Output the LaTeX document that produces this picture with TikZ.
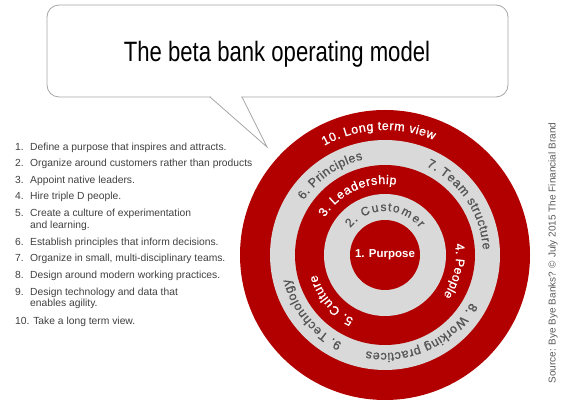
\documentclass[tikz,border=0pt]{standalone}
\usepackage{fontspec}
\setmainfont{Liberation Sans}
\newfontfamily\titlefont[FakeStretch=0.79]{Liberation Sans}
\newfontfamily\ringfont[FakeBold=1.0]{Liberation Sans}
\usetikzlibrary{decorations.text}
\definecolor{ringred}{RGB}{178,0,0}
\definecolor{ringgrey}{RGB}{217,217,217}
\definecolor{labgrey}{RGB}{85,85,85}
\definecolor{listgrey}{RGB}{64,64,64}
\definecolor{boxgrey}{RGB}{166,166,166}
\definecolor{srcgrey}{RGB}{90,90,90}
\tikzset{
  boxline/.style={draw=boxgrey, line width=0.8pt},
  listnum/.style={anchor=base west, inner sep=0pt, text=listgrey, font=\fontsize{10.3}{12}\selectfont},
  listtxt/.style={anchor=base west, inner sep=0pt, text=listgrey, font=\fontsize{10.3}{12}\selectfont},
  arclabel/.style n args={3}{decorate, decoration={text effects along path, text={#3},
     text effects/.cd, text along path, fit text to path,
     characters={inner sep=0pt, anchor=base, text=#1, font=\ringfont\fontsize{#2}{14}\selectfont}}}
}
\begin{document}
\begin{tikzpicture}[x=1pt,y=1pt]
\useasboundingbox (0,0) rectangle (565,409);
% callout
\coordinate (pL) at (210,312);
\coordinate (pT) at (267,262);
\coordinate (pR) at (242,312);
\draw[boxline, fill=white, rounded corners=12pt] (47,312) rectangle (508,404);
\fill[white] (211,313) rectangle (241,310);
\draw[boxline, line join=miter] (pL) -- (pT) -- (pR);
\node[anchor=base, inner sep=0pt] (title) at (277,347) {\titlefont\fontsize{28}{32}\selectfont The beta bank operating model};
% list
\node[listnum] (n1) at (15,258) {1.};
\node[listtxt] (t1) at (30,258) {Define a purpose that inspires and attracts.};
\node[listnum] (n2) at (15,242) {2.};
\node[listtxt] (t2) at (30,242) {Organize around customers rather than products};
\node[listnum] (n3) at (15,225) {3.};
\node[listtxt] (t3) at (30,225) {Appoint native leaders.};
\node[listnum] (n4) at (15,209) {4.};
\node[listtxt] (t4) at (30,209) {Hire triple D people.};
\node[listnum] (n5) at (15,192) {5.};
\node[listtxt] (t5) at (30,192) {Create a culture of experimentation};
\node[listtxt] (t5b) at (30,180) {and learning.};
\node[listnum] (n6) at (15,163) {6.};
\node[listtxt] (t6) at (30,163) {Establish principles that inform decisions.};
\node[listnum] (n7) at (15,147) {7.};
\node[listtxt] (t7) at (30,147) {Organize in small, multi-disciplinary teams.};
\node[listnum] (n8) at (15,130) {8.};
\node[listtxt] (t8) at (30,130) {Design around modern working practices.};
\node[listnum] (n9) at (15,113) {9.};
\node[listtxt] (t9) at (30,113) {Design technology and data that};
\node[listtxt] (t9b) at (30,102) {enables agility.};
\node[listtxt] (t10) at (15,84) {10. Take a long term view.};
% source
\node[rotate=90, inner sep=0pt, text=srcgrey, font=\fontsize{10}{12}\selectfont] (src) at (553,156) {Source: Bye Bye Banks? \textcopyright{} July 2015 The Financial Brand};
% target
\begin{scope}[shift={(385,154)}]
\fill[ringred] (0,0) circle[radius=145pt];
\fill[ringgrey] (0,0) circle[radius=115pt];
\fill[ringred] (0,0) circle[radius=90pt];
\fill[ringgrey] (0,0) circle[radius=61pt];
\fill[ringred] (0,0) circle[radius=35pt];
\node[text=white, inner sep=0pt, font=\bfseries\fontsize{11.5}{12}\selectfont] (purpose) at (0,0) {1. Purpose};
\path[arclabel={white}{12.5}{10. Long term view}] (119:125pt) arc[start angle=119, end angle=67, radius=125pt];
\path[arclabel={labgrey}{12.5}{6. Principles}] (146:98pt) arc[start angle=146, end angle=103, radius=98pt];
\path[arclabel={labgrey}{12.5}{7. Team structure}] (65:98pt) arc[start angle=65, end angle=3, radius=98pt];
\path[arclabel={labgrey}{12.5}{8. Working practices}] (-29:98pt) arc[start angle=-29, end angle=-101, radius=98pt];
\path[arclabel={labgrey}{12.5}{9. Technology}] (-116:98pt) arc[start angle=-116, end angle=-166, radius=98pt];
\path[arclabel={white}{12.5}{3. Leadership}] (148:71pt) arc[start angle=148, end angle=81, radius=71pt];
\path[arclabel={white}{12.5}{4. People}] (9:71pt) arc[start angle=9, end angle=-35, radius=71pt];
\path[arclabel={white}{12.5}{5. Culture}] (-116:71pt) arc[start angle=-116, end angle=-164, radius=71pt];
\path[arclabel={labgrey}{12}{2. Customer}] (142:44pt) arc[start angle=142, end angle=38, radius=44pt];
\end{scope}
\end{tikzpicture}
\end{document}
